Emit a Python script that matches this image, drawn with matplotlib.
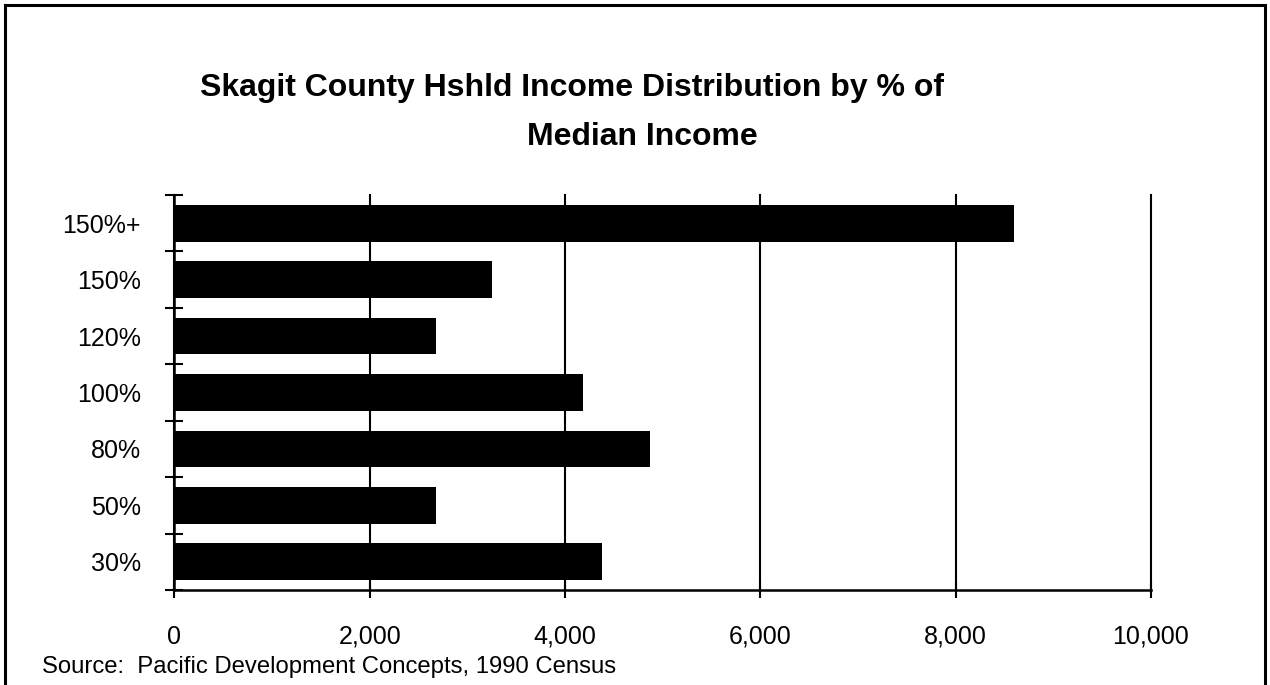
import matplotlib
matplotlib.use("Agg")
import matplotlib.pyplot as plt
from matplotlib.patches import Rectangle
from matplotlib.ticker import FuncFormatter, FixedLocator
import numpy as np

# Data
categories = ["30%", "50%", "80%", "100%", "120%", "150%", "150%+"]
households = [4375, 2680, 4870, 4180, 2680, 3250, 8600]
x_ticks = [0, 2000, 4000, 6000, 8000, 10000]

title_line1 = "Skagit County Hshld Income Distribution by % of"
title_line2 = "Median Income"
source_text = "Source:  Pacific Development Concepts, 1990 Census"

plt.rcParams['font.family'] = ['Liberation Sans', 'DejaVu Sans']

W, H = 1270, 685
fig = plt.figure(figsize=(W / 100, H / 100), dpi=100)
fig.patch.set_facecolor("white")

left, right, top, bottom = 174.3, 1151.0, 195.0, 590.0
ax = fig.add_axes([left / W, 1 - bottom / H, (right - left) / W, (bottom - top) / H])

y = np.arange(len(categories))
ax.barh(y, households, height=0.65, color="black", zorder=3)

ax.set_xlim(0, 10000)
ax.set_ylim(-0.5, len(categories) - 0.5)

lw = 1.5
for s in ["top", "right"]:
    ax.spines[s].set_visible(False)
for s in ["left", "bottom"]:
    ax.spines[s].set_linewidth(lw + 0.3)
    ax.spines[s].set_zorder(4)

ax.xaxis.set_major_locator(FixedLocator(x_ticks))
ax.xaxis.set_major_formatter(FuncFormatter(lambda v, p: f"{int(v):,}"))
ax.tick_params(axis="x", direction="inout", length=12, width=lw, labelsize=18, pad=19)
ax.grid(axis="x", color="black", linewidth=lw, zorder=1)
ax.grid(axis="y", visible=False)
for gl in ax.get_xgridlines():
    gl.set_clip_on(False)

# y: major ticks on category boundaries, labels on centers
ax.yaxis.set_major_locator(FixedLocator(np.arange(-0.5, len(categories), 1.0)))
ax.yaxis.set_major_formatter(FuncFormatter(lambda v, p: ""))
ax.yaxis.set_minor_locator(FixedLocator(y))
ax.set_yticklabels(categories, minor=True)
ax.tick_params(axis="y", which="major", direction="inout", length=13, width=lw)
ax.tick_params(axis="y", which="minor", length=0, labelsize=18, pad=24)

fig.text(200 / W, 1 - 88 / H, title_line1, ha="left", va="center",
         fontsize=23, fontweight="bold")
fig.text(527 / W, 1 - 137 / H, title_line2, ha="left", va="center",
         fontsize=23, fontweight="bold")
fig.text(42 / W, 1 - 667 / H, source_text, ha="left", va="center", fontsize=17.2)

# outer frame (bottom edge off-canvas)
fig.patches.append(Rectangle((5 / W, -0.1), 1260 / W, 1.1 - 5 / H,
                             transform=fig.transFigure, fill=False,
                             edgecolor="black", linewidth=2.2, clip_on=False))

fig.savefig("out.png", dpi=100)
